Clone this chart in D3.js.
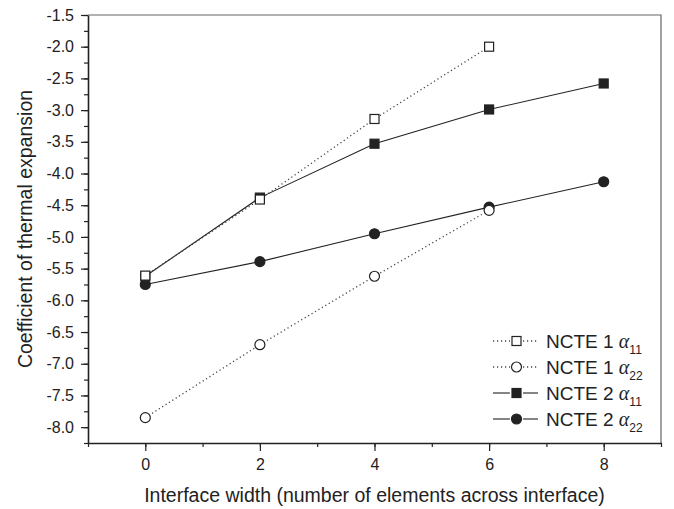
<!DOCTYPE html>
<html>
<head>
<meta charset="utf-8">
<script src="https://cdn.jsdelivr.net/npm/d3@7"></script>
<style>
  body { margin: 0; background: #fff; }
  svg text { font-family: "Liberation Sans", Arial, sans-serif; fill: #222; }
</style>
</head>
<body>
<div id="chart"></div>
<script>
// values
const xValues = [0, 2, 4, 6, 8];
const ncte1A11 = [-5.61, -4.41, -3.14, -2.0];
const ncte1A22 = [-7.85, -6.7, -5.62, -4.58];
const ncte2A11 = [-5.62, -4.38, -3.53, -2.99, -2.58];
const ncte2A22 = [-5.75, -5.39, -4.95, -4.53, -4.13];
const xMajorTicks = [0, 2, 4, 6, 8];
const yMajorTicks = [-8.0, -7.5, -7.0, -6.5, -6.0, -5.5, -5.0, -4.5, -4.0, -3.5, -3.0, -2.5, -2.0, -1.5];
const seriesNames = ["NCTE 1", "NCTE 1", "NCTE 2", "NCTE 2"];
const seriesSubs = ["11", "22", "11", "22"];

const width = 674;
const height = 509;
const margin = { top: 15, right: 13, bottom: 66, left: 88 };

const x = d3.scaleLinear().domain([-1, 9]).range([margin.left, width - margin.right]);
const y = d3.scaleLinear().domain([-8.25, -1.5]).range([height - margin.bottom, margin.top]);

const svg = d3.select("#chart").append("svg")
  .attr("width", width)
  .attr("height", height);

// frame (top and right)
svg.append("path")
  .attr("d", `M${x(-1)},${y(-1.5)}H${x(9)}V${y(-8.25)}`)
  .attr("fill", "none")
  .attr("stroke", "#666")
  .attr("stroke-width", 1.2);

// y axis
const yMinor = d3.range(-8.25, -1.49, 0.25);
svg.append("g")
  .attr("transform", `translate(${x(-1)},0)`)
  .call(d3.axisLeft(y).tickValues(yMinor).tickSize(4).tickSizeOuter(0).tickFormat(""))
  .call(g => g.select(".domain").remove());
const yAxis = svg.append("g")
  .attr("transform", `translate(${x(-1)},0)`)
  .call(d3.axisLeft(y).tickValues(yMajorTicks).tickSize(7).tickSizeOuter(0)
    .tickPadding(7).tickFormat(d => d.toFixed(1)));

// x axis
const xMinor = d3.range(-1, 9.01, 1);
svg.append("g")
  .attr("transform", `translate(0,${y(-8.25)})`)
  .call(d3.axisBottom(x).tickValues(xMinor).tickSize(4).tickSizeOuter(0).tickFormat(""))
  .call(g => g.select(".domain").remove());
const xAxis = svg.append("g")
  .attr("transform", `translate(0,${y(-8.25)})`)
  .call(d3.axisBottom(x).tickValues(xMajorTicks).tickSize(8).tickSizeOuter(0)
    .tickPadding(8).tickFormat(d3.format("d")));

svg.selectAll(".tick line").attr("stroke", "#222").attr("stroke-width", 1.2);
[yAxis, xAxis].forEach(a => {
  a.select(".domain").attr("stroke", "#222").attr("stroke-width", 1.6);
  a.selectAll("text").style("font-size", "16px").attr("fill", "#222")
    .style("font-family", "'Liberation Sans', Arial, sans-serif");
});

// axis titles
svg.append("text")
  .attr("x", (x(-1) + x(9)) / 2)
  .attr("y", 502)
  .attr("text-anchor", "middle")
  .style("font-size", "19.5px")
  .text("Interface width (number of elements across interface)");

svg.append("text")
  .attr("transform", `translate(32,${(y(-1.5) + y(-8.25)) / 2}) rotate(-90)`)
  .attr("text-anchor", "middle")
  .style("font-size", "19.5px")
  .text("Coefficient of thermal expansion");

// series
const series = [
  { vals: ncte2A11, dash: null, shape: "square", fill: "#222" },
  { vals: ncte2A22, dash: null, shape: "circle", fill: "#222" },
  { vals: ncte1A11, dash: "1.2,2.8", shape: "square", fill: "#fff" },
  { vals: ncte1A22, dash: "1.2,2.8", shape: "circle", fill: "#fff" }
];
const line = d3.line().x(d => x(d[0])).y(d => y(d[1]));

function drawMarker(g, shape, fill, cx, cy) {
  if (shape === "square") {
    g.append("rect")
      .attr("x", cx - 4.5).attr("y", cy - 4.5)
      .attr("width", 9).attr("height", 9)
      .attr("fill", fill).attr("stroke", "#222").attr("stroke-width", 1.2);
  } else {
    g.append("circle")
      .attr("cx", cx).attr("cy", cy).attr("r", 5)
      .attr("fill", fill).attr("stroke", "#222").attr("stroke-width", 1.2);
  }
}

series.forEach(s => {
  const pts = s.vals.map((v, i) => [xValues[i], v]);
  svg.append("path")
    .attr("d", line(pts))
    .attr("fill", "none")
    .attr("stroke", s.dash ? "#444" : "#222")
    .attr("stroke-width", s.dash ? 1.3 : 1.1)
    .attr("stroke-dasharray", s.dash);
});
series.forEach(s => {
  const g = svg.append("g");
  s.vals.forEach((v, i) => drawMarker(g, s.shape, s.fill, x(xValues[i]), y(v)));
});

// legend
const legendOrder = [2, 3, 0, 1];
const legend = svg.append("g");
legendOrder.forEach((si, row) => {
  const s = series[si];
  const ly = 341 + row * 26;
  const g = legend.append("g").attr("transform", `translate(0,${ly})`);
  g.append("line").attr("x1", 493).attr("x2", 510)
    .attr("stroke", s.dash ? "#444" : "#222").attr("stroke-width", s.dash ? 1.3 : 1.1)
    .attr("stroke-dasharray", s.dash);
  g.append("line").attr("x1", 523).attr("x2", 538)
    .attr("stroke", s.dash ? "#444" : "#222").attr("stroke-width", s.dash ? 1.3 : 1.1)
    .attr("stroke-dasharray", s.dash);
  drawMarker(g, s.shape, s.fill, 516.5, 0);
  const t = g.append("text").attr("x", 546).attr("y", 7).style("font-size", "19px");
  t.append("tspan").text(seriesNames[row] + " ");
  t.append("tspan").text("α")
    .style("font-family", "'Liberation Serif', 'DejaVu Serif', serif")
    .style("font-style", "italic").style("font-size", "20px");
  t.append("tspan").text(seriesSubs[row]).attr("dy", 6).style("font-size", "12px");
});
</script>
</body>
</html>
